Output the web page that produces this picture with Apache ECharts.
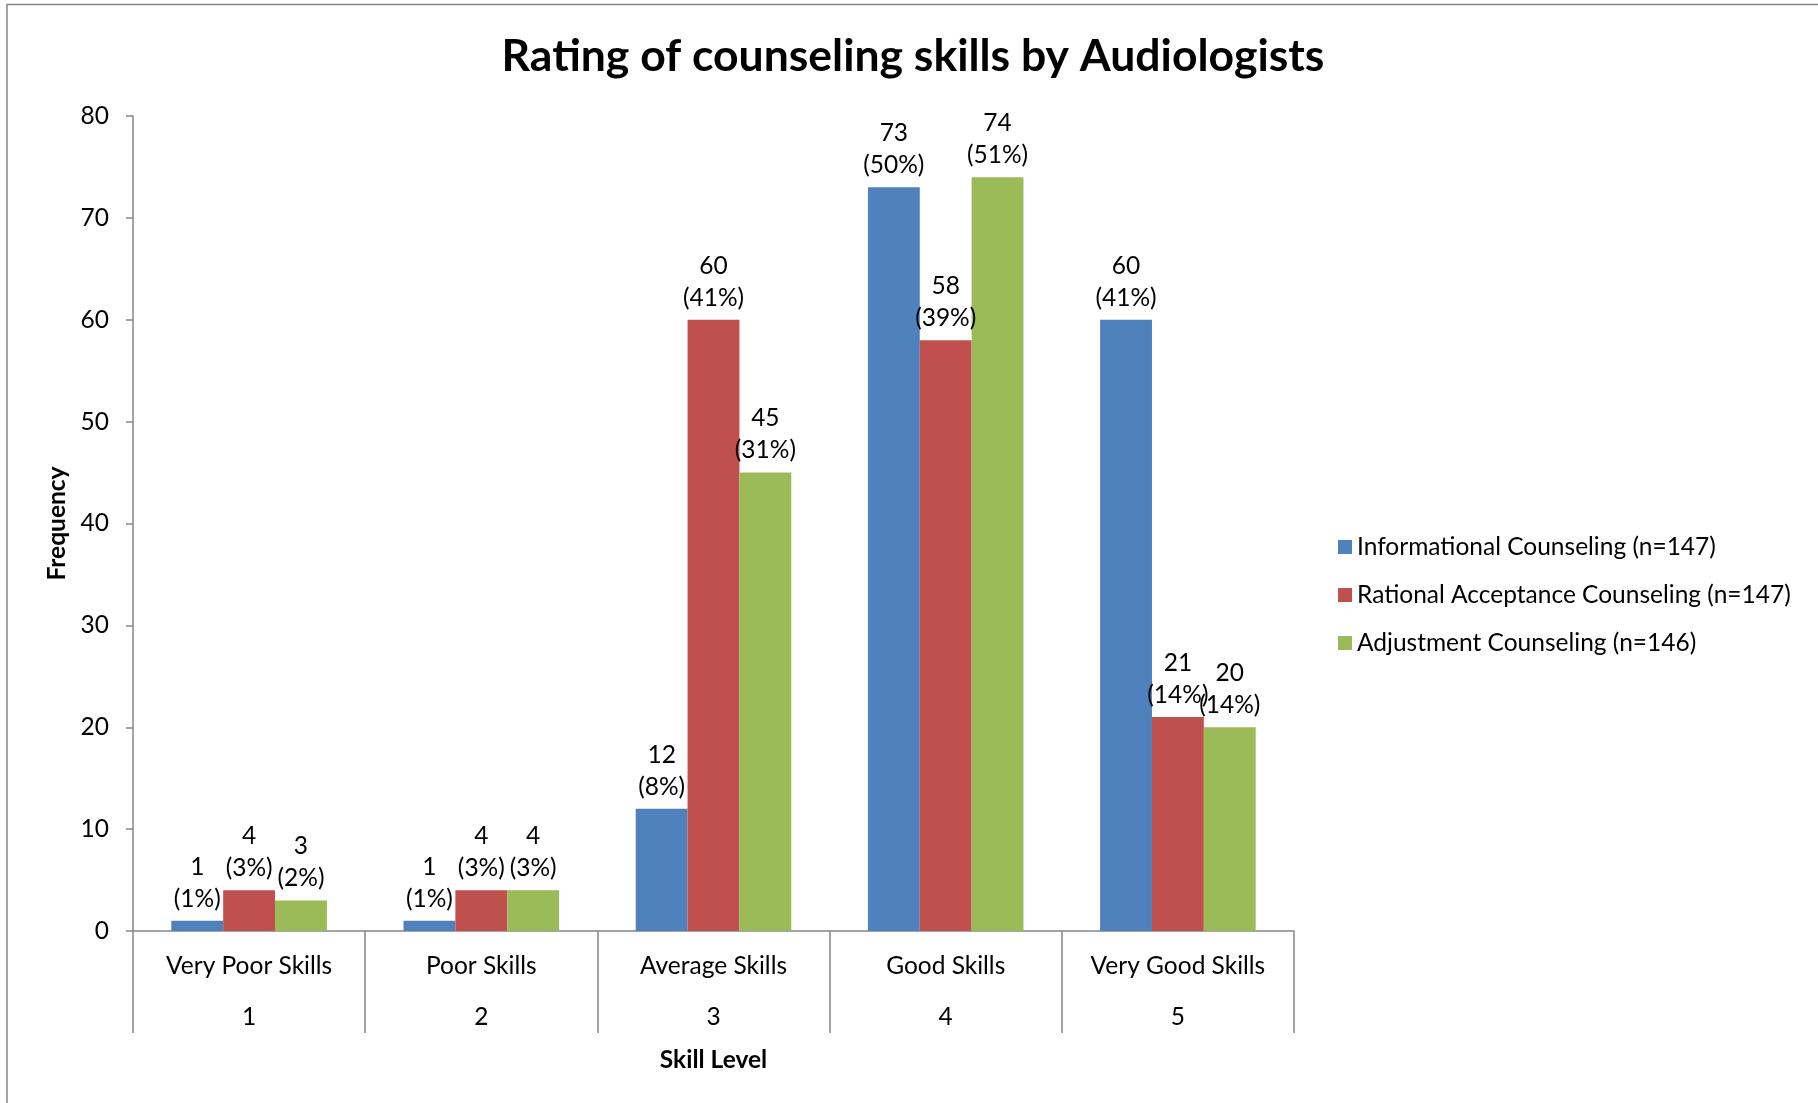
<!DOCTYPE html>
<html>
<head>
<meta charset="utf-8">
<title>Rating of counseling skills by Audiologists</title>
<script src="https://cdn.jsdelivr.net/npm/echarts@6/dist/echarts.min.js"></script>
<style>
  html, body { margin: 0; padding: 0; background: #ffffff; }
  #chart { width: 1818px; height: 1103px; }
</style>
</head>
<body>
<div id="chart"></div>
<script>
// Skill levels (name + numeric rating shown under each group)
const skillNames = ['Very Poor Skills', 'Poor Skills', 'Average Skills', 'Good Skills', 'Very Good Skills'];
const skillRatings = ['1', '2', '3', '4', '5'];

// Frequencies per counseling type
const informational = [1, 1, 12, 73, 60];
const rationalAcceptance = [4, 4, 60, 58, 21];
const adjustment = [3, 4, 45, 74, 20];

// Percentages printed under each count
const informationalPct = [1, 1, 8, 50, 41];
const rationalAcceptancePct = [3, 3, 41, 39, 14];
const adjustmentPct = [2, 3, 31, 51, 14];

const seriesNames = [
  'Informational Counseling (n=147)',
  'Rational Acceptance Counseling (n=147)',
  'Adjustment Counseling (n=146)'
];

const yTicks = { min: 0, max: 80, interval: 10 };

const FONT = 'Lato';
const axisGrey = '#868686';

const categories = skillNames.map((n, i) => n + '\n' + skillRatings[i]);

function barSeries(name, values, pcts, color) {
  return {
    name: name,
    type: 'bar',
    data: values,
    barGap: '0%',
    barCategoryGap: '33%',
    itemStyle: { color: color },
    label: {
      show: true,
      position: 'top',
      distance: 6,
      color: '#000',
      fontFamily: FONT,
      fontSize: 24.5,
      lineHeight: 32,
      formatter: p => p.value + '\n(' + pcts[p.dataIndex] + '%)'
    }
  };
}

const chart = echarts.init(document.getElementById('chart'), null, { renderer: 'canvas' });

chart.setOption({
  backgroundColor: '#ffffff',
  animation: false,
  textStyle: { fontFamily: FONT, color: '#000' },
  title: {
    text: 'Rating of counseling skills by Audiologists',
    left: 908,
    textAlign: 'center',
    top: 29,
    textStyle: { fontFamily: FONT, fontWeight: 'bold', fontSize: 44.5, color: '#000' }
  },
  legend: {
    orient: 'vertical',
    left: 1333,
    top: 528,
    itemWidth: 14,
    itemHeight: 14,
    itemGap: 20,
    icon: 'rect',
    textStyle: { fontFamily: FONT, fontSize: 24.5, color: '#000', lineHeight: 28 },
    data: seriesNames
  },
  grid: { left: 133, right: 524, top: 116, bottom: 172 },
  xAxis: {
    type: 'category',
    data: categories,
    name: 'Skill Level',
    nameLocation: 'middle',
    nameGap: 110,
    nameTextStyle: { fontFamily: FONT, fontWeight: 'bold', fontSize: 24.5, color: '#000' },
    axisLine: { show: true, lineStyle: { color: axisGrey, width: 1.5 } },
    axisTick: { show: true, length: 102, lineStyle: { color: axisGrey, width: 1.5 } },
    axisLabel: {
      margin: 10,
      fontFamily: FONT,
      fontSize: 24.5,
      lineHeight: 51,
      color: '#000',
      interval: 0
    }
  },
  yAxis: {
    type: 'value',
    min: yTicks.min,
    max: yTicks.max,
    interval: yTicks.interval,
    name: 'Frequency',
    nameLocation: 'middle',
    nameGap: 63,
    nameRotate: 90,
    nameTextStyle: { fontFamily: FONT, fontWeight: 'bold', fontSize: 24.5, color: '#000' },
    axisLine: { show: true, lineStyle: { color: axisGrey, width: 1.5 } },
    axisTick: { show: true, length: 7, lineStyle: { color: axisGrey, width: 1.5 } },
    splitLine: { show: false },
    axisLabel: { margin: 24, fontFamily: FONT, fontSize: 24.5, color: '#000' }
  },
  graphic: [{
    type: 'rect',
    shape: { x: 7, y: 4.5, width: 1900, height: 1200 },
    style: { fill: 'none', stroke: axisGrey, lineWidth: 1.5 },
    silent: true
  }],
  series: [
    barSeries(seriesNames[0], informational, informationalPct, '#4F81BD'),
    barSeries(seriesNames[1], rationalAcceptance, rationalAcceptancePct, '#C0504D'),
    barSeries(seriesNames[2], adjustment, adjustmentPct, '#9BBB59')
  ]
});
</script>
</body>
</html>
